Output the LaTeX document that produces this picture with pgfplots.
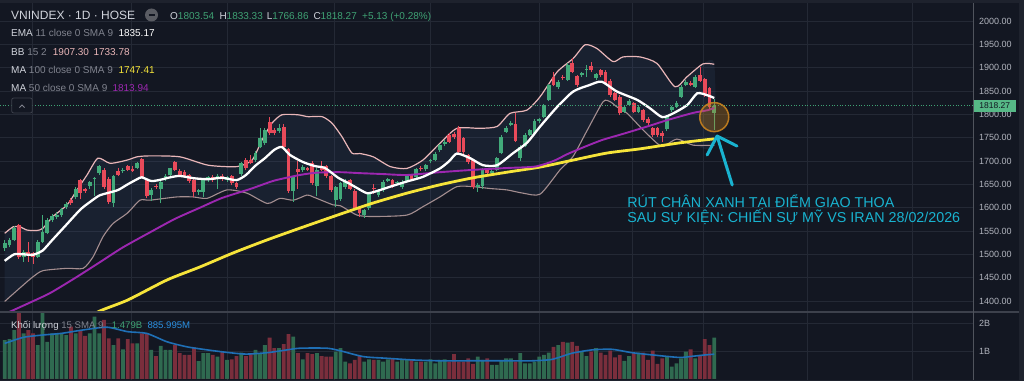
\documentclass[border=0pt]{standalone}
\usepackage{fontspec}
\setmainfont{Liberation Sans}
\usepackage{pgfplots}
\pgfplotsset{compat=1.18}
\usepackage{pgfplotstable}
\definecolor{bg}{HTML}{131722}
\definecolor{framec}{HTML}{1E222D}
\definecolor{gridc}{HTML}{242935}
\definecolor{sepc}{HTML}{3D414C}
\definecolor{txt}{HTML}{B2B5BE}
\definecolor{txtw}{HTML}{D1D4DC}
\definecolor{txtg}{HTML}{80838E}
\definecolor{up}{HTML}{42AA7A}
\definecolor{dn}{HTML}{E84A5A}
\definecolor{upt}{HTML}{3FA274}
\definecolor{vup}{HTML}{2F6A50}
\definecolor{vdn}{HTML}{7A2E3C}
\definecolor{bbu}{HTML}{E9B6B8}
\definecolor{bbl}{HTML}{A48E90}
\definecolor{bbf}{HTML}{4A6A9A}
\definecolor{ma100}{HTML}{F6E43A}
\definecolor{ma50}{HTML}{9C27B0}
\definecolor{volma}{HTML}{1F6FB5}
\definecolor{volt}{HTML}{2A8FE0}
\definecolor{cyanA}{HTML}{19B3D0}
\definecolor{orangeA}{HTML}{C8821E}
\definecolor{pricebox}{HTML}{56B886}

\pgfplotstableread{
i o h l c v
0 1513 1530 1507 1524 1.39
1 1520 1535 1515 1531 1.42
2 1531 1560 1528 1556 1.75
3 1563 1566 1490 1495 2.40
4 1495 1510 1484 1506 1.63
5 1506 1527 1484 1501 1.75
6 1502 1506 1480 1495 1.63
7 1495 1530 1492 1527 1.21
8 1527 1584 1525 1548 2.40
9 1546 1578 1543 1574 1.33
10 1574 1586 1570 1582 1.63
11 1580 1590 1575 1584 1.63
12 1584 1600 1580 1597 1.63
13 1602 1612 1598 1607 1.57
14 1616 1620 1606 1611 1.87
15 1622 1644 1618 1641 1.63
16 1659 1662 1618 1631 1.75
17 1639 1642 1632 1636 1.54
18 1646 1658 1640 1654 1.63
19 1662 1666 1626 1664 2.23
20 1674 1692 1670 1689 1.63
21 1681 1684 1640 1645 2.11
22 1661 1666 1608 1613 1.45
23 1611 1670 1602 1668 1.21
24 1679 1684 1668 1671 1.45
25 1678 1686 1675 1681 1.06
26 1689 1692 1678 1681 1.42
27 1682 1690 1676 1679 1.27
28 1686 1698 1682 1695 1.27
29 1704 1706 1663 1666 1.63
30 1661 1664 1620 1625 1.63
31 1627 1642 1615 1638 1.04
32 1646 1650 1640 1644 0.82
33 1639 1658 1609 1656 1.18
34 1661 1672 1658 1668 1.04
35 1670 1686 1666 1684 1.04
36 1697 1700 1678 1681 1.21
37 1679 1682 1666 1670 0.92
38 1677 1680 1665 1668 0.86
39 1670 1673 1652 1657 0.86
40 1659 1662 1623 1634 1.13
41 1634 1641 1628 1638 0.64
42 1634 1662 1623 1659 0.92
43 1659 1668 1655 1665 0.92
44 1665 1669 1655 1659 0.86
45 1662 1672 1640 1668 0.80
46 1668 1672 1658 1662 0.98
47 1660 1668 1655 1665 0.68
48 1668 1671 1648 1652 0.70
49 1652 1655 1640 1645 0.82
50 1672 1698 1668 1695 0.94
51 1703 1707 1680 1684 0.82
52 1702 1712 1693 1696 0.92
53 1702 1721 1698 1718 1.04
54 1731 1770 1727 1749 0.92
55 1738 1770 1734 1766 1.21
56 1784 1795 1755 1759 1.48
57 1766 1770 1755 1759 1.10
58 1765 1780 1760 1770 1.10
59 1772 1780 1727 1731 1.25
60 1725 1728 1632 1636 1.60
61 1636 1668 1613 1665 1.51
62 1682 1700 1640 1677 0.92
63 1681 1692 1677 1688 0.70
64 1684 1688 1678 1681 0.92
65 1696 1700 1648 1652 0.89
66 1646 1684 1625 1681 0.92
67 1688 1700 1678 1681 0.82
68 1689 1692 1664 1668 0.80
69 1668 1671 1634 1638 0.80
70 1616 1647 1602 1644 0.98
71 1618 1655 1614 1652 1.10
72 1644 1661 1640 1658 0.62
73 1659 1662 1637 1641 0.56
74 1636 1640 1596 1600 0.68
75 1600 1604 1580 1588 0.82
76 1584 1598 1578 1594 0.62
77 1599 1634 1596 1631 0.70
78 1642 1650 1630 1640 0.68
79 1627 1639 1622 1636 0.68
80 1638 1659 1634 1656 0.62
81 1658 1664 1654 1661 0.70
82 1659 1662 1642 1646 0.74
83 1652 1657 1648 1654 0.62
84 1644 1659 1640 1656 0.68
85 1656 1671 1652 1668 0.68
86 1670 1673 1657 1661 0.70
87 1666 1685 1662 1682 0.62
88 1686 1689 1679 1682 0.62
89 1682 1694 1678 1691 0.62
90 1699 1705 1695 1702 0.70
91 1702 1719 1699 1716 0.56
92 1724 1737 1720 1734 0.68
93 1736 1744 1732 1741 0.70
94 1756 1759 1738 1741 0.62
95 1757 1762 1748 1752 0.89
96 1770 1774 1716 1720 0.62
97 1749 1752 1716 1720 0.62
98 1713 1716 1694 1698 0.74
99 1702 1705 1641 1645 0.54
100 1645 1652 1634 1649 0.80
101 1646 1684 1640 1681 0.68
102 1681 1684 1670 1674 0.74
103 1674 1681 1670 1678 0.50
104 1681 1709 1678 1706 0.50
105 1717 1755 1714 1752 0.65
106 1763 1774 1760 1771 0.74
107 1777 1786 1774 1782 0.74
108 1779 1803 1740 1743 0.62
109 1706 1734 1700 1731 0.92
110 1732 1759 1729 1756 0.56
111 1756 1769 1753 1766 0.56
112 1761 1789 1758 1786 0.62
113 1786 1792 1782 1789 0.80
114 1795 1823 1792 1820 0.86
115 1831 1866 1828 1863 0.94
116 1881 1890 1860 1863 1.15
117 1859 1873 1855 1870 1.21
118 1881 1884 1874 1877 1.33
119 1874 1909 1871 1906 1.30
120 1909 1921 1888 1891 1.33
121 1882 1885 1858 1863 1.18
122 1884 1891 1880 1888 0.98
123 1895 1906 1880 1897 0.82
124 1904 1912 1891 1894 0.98
125 1877 1889 1873 1886 1.10
126 1895 1898 1881 1884 0.94
127 1891 1894 1863 1866 0.86
128 1872 1875 1838 1842 1.01
129 1845 1848 1828 1831 0.77
130 1838 1841 1798 1802 0.86
131 1806 1819 1802 1816 0.65
132 1820 1832 1817 1829 0.82
133 1824 1827 1802 1806 0.92
134 1806 1819 1802 1816 0.94
135 1809 1812 1784 1788 0.94
136 1791 1794 1778 1782 0.68
137 1770 1773 1752 1756 1.01
138 1770 1773 1752 1756 0.54
139 1760 1765 1740 1753 0.74
140 1768 1799 1765 1796 0.80
141 1809 1818 1806 1815 0.44
142 1816 1828 1813 1825 0.56
143 1838 1862 1835 1859 0.74
144 1863 1873 1860 1870 0.98
145 1868 1871 1860 1863 1.06
146 1859 1884 1856 1881 0.74
147 1884 1902 1869 1872 0.86
148 1875 1878 1838 1841 1.42
149 1856 1859 1812 1816 1.21
150 1803.54 1833.33 1766.86 1818.27 1.479
}\candles

\pgfplotsset{
  chartbase/.style={
    scale only axis, anchor=south west,
    xmin=-0.994, xmax=204.7,
    axis line style={draw=none},
    major tick length=0pt,
    xtick={5.77,26.9,47.0,69.8,90.1,113.0,132.8,147.8,169.8,191.8},
    xticklabels={},
    grid=major,
    major grid style={gridc, line width=0.9pt},
    yticklabel pos=right,
    yticklabel style={anchor=west, inner sep=0pt, xshift=6pt, text=txt,
      font=\fontsize{9}{10}\selectfont},
    /pgf/number format/assume math mode=true,
  }
}

\begin{document}
\begin{tikzpicture}
\fill[framec] (0pt,0pt) rectangle (1024pt,381pt);
\fill[bg] (0pt,1pt) rectangle (1019pt,378pt);

% ---------------- price panel ----------------
\begin{axis}[chartbase,
  at={(0pt,69pt)}, width=973pt, height=309pt,
  ymin=1376.4, ymax=2038.6,
  ytick={1400,1450,...,2000},
  yticklabel style={/pgf/number format/.cd, fixed, fixed zerofill, precision=2, 1000 sep={}},
]
% Bollinger band area
\addplot[fill=bbf, fill opacity=0.12, draw=none, smooth, tension=0.4] coordinates {
(0,1545) (1.8,1559) (3.2,1559) (4.7,1552) (6.8,1551) (8.1,1556) (10.2,1581) (13.2,1606)
(15.3,1638) (17.4,1670) (19.7,1706) (22.3,1695) (25.9,1702) (28,1709) (30.7,1711) (37,1709)
(43,1691) (49.1,1688) (52.3,1702) (54.4,1745) (56.5,1781) (58.6,1799) (62,1799) (64.1,1795)
(67.1,1795) (69.2,1781) (71.3,1752) (73.4,1717) (75.1,1716) (77.9,1709) (81.5,1688) (85,1684)
(88.4,1702) (92,1738) (95.6,1770) (100.5,1770) (104.1,1774) (106.8,1802) (110.4,1809)
(113.2,1838) (116.8,1891) (120.2,1920) (122.7,1949) (125.2,1941) (128.6,1913) (130.7,1923)
(134.3,1923) (137.9,1909) (141.7,1859) (144.3,1881) (147.6,1908) (150,1907.3)
(150,1733.78) (145.5,1734) (142.1,1747) (139.2,1731) (137.9,1738) (135,1766) (131.6,1802)
(129.4,1816) (128,1827) (126.5,1827) (123.1,1765) (120.1,1709) (117.4,1681) (113.2,1629)
(109.6,1631) (106.2,1638) (102.6,1641) (99,1645) (95.6,1645) (92,1623) (88.4,1602) (85,1584)
(77.9,1581) (74.5,1584) (71,1604) (69.4,1606) (65.2,1623) (63.9,1627) (61,1616) (58.2,1620)
(55.5,1609) (51.2,1631) (47,1638) (42.8,1620) (39.8,1623) (36.4,1623) (30.7,1616) (28.6,1616)
(25.9,1588) (22.9,1566) (20.8,1538) (18.7,1495) (16.6,1470) (13.2,1470) (8.1,1465) (6,1452)
(3.9,1434) (1.1,1409) (0,1399)};
% Bollinger bands
\addplot[bbu, line width=1.2pt, smooth, tension=0.4] coordinates {
(0,1545) (1.8,1559) (3.2,1559) (4.7,1552) (6.8,1551) (8.1,1556) (10.2,1581) (13.2,1606)
(15.3,1638) (17.4,1670) (19.7,1706) (22.3,1695) (25.9,1702) (28,1709) (30.7,1711) (37,1709)
(43,1691) (49.1,1688) (52.3,1702) (54.4,1745) (56.5,1781) (58.6,1799) (62,1799) (64.1,1795)
(67.1,1795) (69.2,1781) (71.3,1752) (73.4,1717) (75.1,1716) (77.9,1709) (81.5,1688) (85,1684)
(88.4,1702) (92,1738) (95.6,1770) (100.5,1770) (104.1,1774) (106.8,1802) (110.4,1809)
(113.2,1838) (116.8,1891) (120.2,1920) (122.7,1949) (125.2,1941) (128.6,1913) (130.7,1923)
(134.3,1923) (137.9,1909) (141.7,1859) (144.3,1881) (147.6,1908) (150,1907.3)};
\addplot[bbl, line width=1.1pt, smooth, tension=0.4] coordinates {
(0,1399) (1.1,1409) (3.9,1434) (6,1452) (8.1,1465) (13.2,1470) (16.6,1470) (18.7,1495)
(20.8,1538) (22.9,1566) (25.9,1588) (28.6,1616) (30.7,1616) (36.4,1623) (39.8,1623)
(42.8,1620) (47,1638) (51.2,1631) (55.5,1609) (58.2,1620) (61,1616) (63.9,1627) (65.2,1623)
(69.4,1606) (71,1604) (74.5,1584) (77.9,1581) (85,1584) (88.4,1602) (92,1623) (95.6,1645)
(99,1645) (102.6,1641) (106.2,1638) (109.6,1631) (113.2,1629) (117.4,1681) (120.1,1709)
(123.1,1765) (126.5,1827) (128,1827) (129.4,1816) (131.6,1802) (135,1766) (137.9,1738)
(139.2,1731) (142.1,1747) (145.5,1734) (150,1733.78)};

% candle wicks (segments from low to high)
\addplot[up, line width=1pt, quiver={u=0, v={\thisrow{h}-\thisrow{l}}}]
  table[x=i, y expr={\thisrow{c}<\thisrow{o} ? 100 : \thisrow{l}}] {\candles};
\addplot[dn, line width=1pt, quiver={u=0, v={\thisrow{h}-\thisrow{l}}}]
  table[x=i, y expr={\thisrow{c}<\thisrow{o} ? \thisrow{l} : 100}] {\candles};
% candle bodies (from open to close)
\addplot[up, line width=3.8pt, quiver={u=0, v={max(\thisrow{c}-\thisrow{o},2.2)}}]
  table[x=i, y expr={\thisrow{c}<\thisrow{o} ? 100 : \thisrow{o}}] {\candles};
\addplot[dn, line width=3.8pt, quiver={u=0, v={max(\thisrow{o}-\thisrow{c},2.2)}}]
  table[x=i, y expr={\thisrow{c}<\thisrow{o} ? \thisrow{c} : 100}] {\candles};

% MA 100
\addplot[ma100, line width=2.8pt, smooth, tension=0.4] coordinates {
(14,1345) (20,1378) (26,1402) (34.3,1445) (41.3,1473) (48.3,1503) (55.5,1531) (62.4,1556)
(70.9,1586) (77.9,1610) (85,1631) (92,1649) (99,1664) (106.2,1676) (113.2,1687) (120.2,1702)
(127.3,1717) (134.3,1726) (142.8,1739) (150,1747.41)};
% MA 50
\addplot[ma50, line width=1.9pt, smooth, tension=0.4] coordinates {
(0,1372) (5,1395) (9.6,1417) (15,1450) (20.1,1483) (25,1515) (30.7,1547) (36,1576)
(41.3,1600) (46,1621) (51.9,1640) (57,1658) (62.4,1670) (66,1675) (70.9,1676) (75,1674)
(80,1672) (85,1670) (92,1676) (99,1681) (106.2,1685) (112.1,1688) (116,1700) (119,1715)
(122.5,1730) (126.3,1745) (130,1756) (133.3,1766) (136.8,1777) (140.2,1788) (145.5,1803)
(148.7,1809) (150,1813.94)};
% EMA 11
\addplot[white, line width=2.3pt, smooth, tension=0.4] coordinates {
(0,1486) (2,1500) (4,1500) (6,1499) (8,1508) (10,1530) (13,1563) (16,1596) (18,1612)
(20,1626) (22,1632) (24,1638) (26,1650) (28,1661) (29,1665) (31,1657) (33,1660) (35,1665)
(37,1668) (40,1663) (43,1661) (46,1664) (49,1659) (51,1670) (53,1690) (55,1706) (57,1724)
(58.6,1730) (60.3,1713) (63,1698) (65.6,1689) (67.7,1685) (70.5,1664) (72.6,1653)
(74.5,1642) (76.6,1631) (78.5,1635) (81.5,1645) (85,1656) (88.4,1666) (92,1684) (94,1700)
(95.6,1716) (98.4,1706) (101.1,1691) (104.1,1691) (107.5,1717) (110.4,1739) (113.2,1774)
(116.8,1816) (120.2,1849) (123.7,1863) (126.2,1870) (129.4,1849) (133.7,1831) (136.4,1813)
(139,1794) (141.3,1802) (144.3,1820) (146.4,1845) (148.5,1841) (150,1835)};
% last price line
\addplot[upt, dotted, line width=0.7pt] coordinates {(-1,1818.27) (204.7,1818.27)};
\coordinate (lastp) at (axis cs:204.7,1818.27);

% annotation
\draw[orangeA, line width=1.5pt, fill=orangeA, fill opacity=0.32, draw opacity=0.9]
  (axis cs:150,1794) circle[radius=14.5pt];
\draw[cyanA, line width=3pt, line cap=round]
  (axis cs:153.8,1648.6) -- (axis cs:150.6,1753.6);
\draw[cyanA, line width=3pt, line cap=round, line join=round]
  (axis cs:148.5,1712.9) -- (axis cs:150.6,1753.6) -- (axis cs:154.8,1732);
\node[anchor=base west, inner sep=0pt, text=cyanA, font=\fontsize{14.3}{16}\selectfont]
  at (axis cs:131.6,1600.5) {RÚT CHÂN XANH TẠI ĐIỂM GIAO THOA};
\node[anchor=base west, inner sep=0pt, text=cyanA, font=\fontsize{14.3}{16}\selectfont]
  at (axis cs:131.6,1568.5) {SAU SỰ KIỆN: CHIẾN SỰ MỸ VS IRAN 28/02/2026};
\end{axis}

% ---------------- volume panel ----------------
\begin{axis}[chartbase,
  at={(0pt,1pt)}, width=973pt, height=68pt,
  ymin=-0.036, ymax=2.393,
  ytick={1,2}, yticklabels={1B,2B},
]
\addplot[ybar, bar width=3.8pt, bar shift=0pt, fill=vup, draw=none]
  table[x=i, y expr={\thisrow{c}<\thisrow{o} ? 0 : \thisrow{v}}] {\candles};
\addplot[ybar, bar width=3.8pt, bar shift=0pt, fill=vdn, draw=none]
  table[x=i, y expr={\thisrow{c}<\thisrow{o} ? \thisrow{v} : 0}] {\candles};
\addplot[volma, line width=1.6pt, smooth, tension=0.4] coordinates {
(0,1.27) (4,1.49) (8,1.57) (12,1.63) (16.5,1.75) (21.6,1.85) (26,1.69) (30,1.63) (34.3,1.33)
(38.5,1.15) (42.8,1.04) (47,0.95) (51,0.89) (55.5,0.94) (59.7,1.04) (62.4,1.10) (68.1,1.10)
(70.9,1.01) (75.8,0.80) (80.8,0.74) (86.3,0.68) (92,0.65) (97.7,0.65) (103.2,0.65)
(107.2,0.65) (111.5,0.65) (115.7,0.70) (119.9,0.92) (124.2,1.04) (128.4,1.06) (132.6,0.94)
(136.9,0.86) (142.6,0.77) (145.3,0.81) (148.1,0.86) (150,0.886)};
\end{axis}

% separators
\draw[sepc, line width=1.3pt] (0pt,69pt) -- (1019pt,69pt);
\draw[gridc!80!white, line width=1pt] (973pt,1pt) -- (973pt,378pt);

% last price box
\node[anchor=west, fill=pricebox, text=bg, inner sep=0pt, minimum width=42pt, minimum height=12.5pt,
  font=\fontsize{8.5}{9}\selectfont] at ([xshift=0.5pt]lastp) {1818.27};

% header texts
\node[anchor=base west, inner sep=0pt, text=txtw, font=\fontsize{12}{14}\selectfont] at (11pt,361.5pt) {VNINDEX · 1D · HOSE};
\fill[txtg!70!black] (151.5pt,366pt) circle[radius=6.5pt];
\draw[bg, line width=1.6pt] (148.5pt,366pt) -- (154.5pt,366pt);
\begin{scope}[every node/.style={anchor=base west, inner sep=0pt, font=\fontsize{10}{12}\selectfont}]
\node at (170pt,361.5pt) {\textcolor{txtw}{O}\textcolor{upt}{1803.54}};
\node at (219.3pt,361.5pt) {\textcolor{txtw}{H}\textcolor{upt}{1833.33}};
\node at (266.7pt,361.5pt) {\textcolor{txtw}{L}\textcolor{upt}{1766.86}};
\node at (313.3pt,361.5pt) {\textcolor{txtw}{C}\textcolor{upt}{1818.27}};
\node at (362pt,361.5pt) {\textcolor{upt}{+5.13 (+0.28\%)}};
\node at (11pt,344pt) {\textcolor{txtw}{EMA} \textcolor{txtg}{11 close 0 SMA 9}};
\node at (118.3pt,344pt) {\textcolor{white}{1835.17}};
\node at (11pt,325.5pt) {\textcolor{txtw}{BB} \textcolor{txtg}{15 2}};
\node at (52.7pt,325.5pt) {\textcolor{bbu}{1907.30}};
\node at (93.3pt,325.5pt) {\textcolor{bbu}{1733.78}};
\node at (11pt,307.5pt) {\textcolor{txtw}{MA} \textcolor{txtg}{100 close 0 SMA 9}};
\node at (118.3pt,307.5pt) {\textcolor{ma100}{1747.41}};
\node at (11pt,289.3pt) {\textcolor{txtw}{MA} \textcolor{txtg}{50 close 0 SMA 9}};
\node at (112.3pt,289.3pt) {\textcolor{ma50}{1813.94}};
\end{scope}
\begin{scope}[every node/.style={anchor=base west, inner sep=0pt, font=\fontsize{9.6}{11}\selectfont}]
\node at (11pt,52.5pt) {\textcolor{txtw}{Khối lượng} \textcolor{txtg}{15 SMA 9}};
\node at (111.7pt,52.5pt) {\textcolor{upt}{1.479B}};
\node at (147.3pt,52.5pt) {\textcolor{volt}{885.995M}};
\end{scope}
% collapse button
\draw[sepc, fill=bg, rounded corners=2pt, line width=0.8pt] (11.7pt,268pt) rectangle (32.3pt,283pt);
\draw[txtg, line width=0.8pt] (19.5pt,273.5pt) -- (22pt,276pt) -- (24.5pt,273.5pt);
\pgfresetboundingbox
\path[use as bounding box] (0pt,0pt) rectangle (1024pt,381pt);
\end{tikzpicture}
\end{document}
